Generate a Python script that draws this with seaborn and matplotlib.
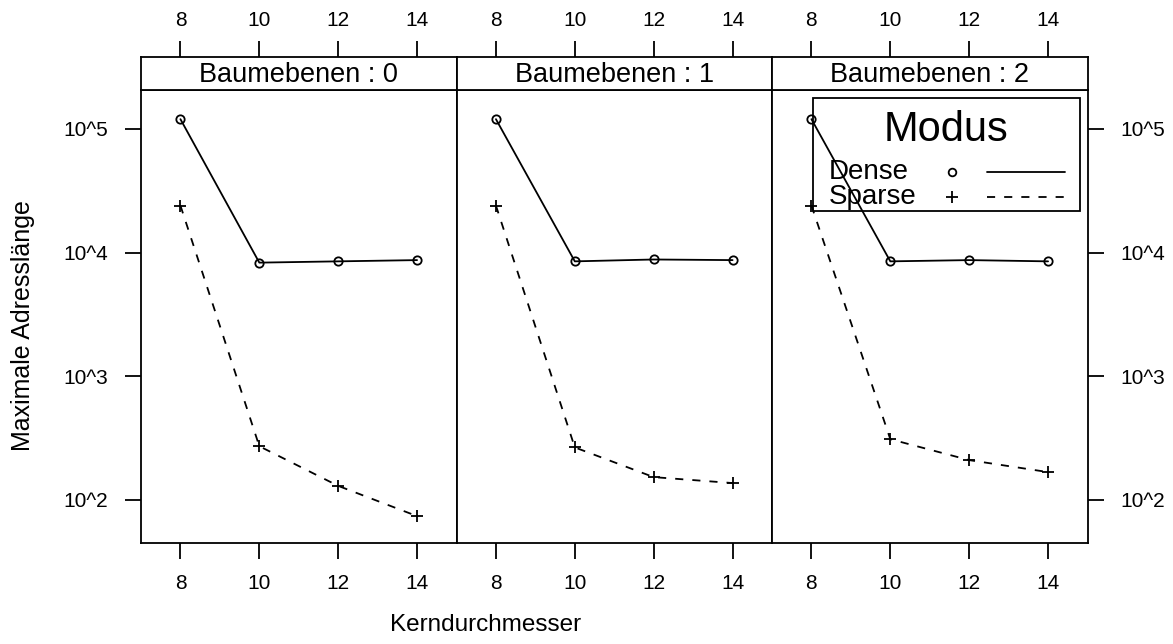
import numpy as np
import pandas as pd
import matplotlib
matplotlib.use("Agg")
import matplotlib.pyplot as plt
from matplotlib.lines import Line2D
import seaborn as sns

sns.set_theme(style="white")
plt.rcParams['font.family'] = ['Liberation Sans', 'DejaVu Sans']
plt.rcParams['text.color'] = 'black'
plt.rcParams['axes.labelcolor'] = 'black'
plt.rcParams['xtick.color'] = 'black'
plt.rcParams['ytick.color'] = 'black'

# ---- data ----
kern = [8, 10, 12, 14]
ebenen = [0, 1, 2]
dense_0 = [120000, 8300, 8500, 8700]
dense_1 = [120000, 8500, 8800, 8700]
dense_2 = [120000, 8500, 8700, 8500]
sparse_0 = [24000, 272, 130, 74]
sparse_1 = [24000, 266, 153, 137]
sparse_2 = [24000, 310, 210, 168]
modes = ["Dense", "Sparse"]
ytick_vals = [1e2, 1e3, 1e4, 1e5]
ytick_labels = ["10^2", "10^3", "10^4", "10^5"]

dense = {0: dense_0, 1: dense_1, 2: dense_2}
sparse = {0: sparse_0, 1: sparse_1, 2: sparse_2}
rows = []
for e in ebenen:
    for k, d, s in zip(kern, dense[e], sparse[e]):
        rows.append({"Baumebenen": e, "Kerndurchmesser": k, "Modus": "Dense", "val": d})
        rows.append({"Baumebenen": e, "Kerndurchmesser": k, "Modus": "Sparse", "val": s})
df = pd.DataFrame(rows)

W, H = 1173, 644
fig = plt.figure(figsize=(W / 100, H / 100), dpi=100)

def fx(px):
    return px / W

def fy(py):
    return 1 - py / H

panel_x = [141, 456.5, 772, 1087.5]
top_p, bot_p, top_s = 90, 543, 57
FS = 15
lw_frame = 1.3
dash = (4.5, 5)

for i, e in enumerate(ebenen):
    x0, x1 = panel_x[i], panel_x[i + 1]
    ax = fig.add_axes([fx(x0), fy(bot_p), fx(x1 - x0), (bot_p - top_p) / H])
    sub = df[df["Baumebenen"] == e]
    sns.lineplot(data=sub, x="Kerndurchmesser", y="val", style="Modus",
                 style_order=modes, markers={"Dense": "o", "Sparse": "P"},
                 dashes={"Dense": "", "Sparse": dash}, color="black",
                 lw=1.3, ms=6, mfc="none", mec="black", mew=1.3,
                 legend=False, ax=ax)
    # replace P with + marker
    for ln in ax.get_lines():
        if ln.get_marker() == "P":
            ln.set_marker("+")
            ln.set_markersize(9)
    ax.set_yscale("log")
    ax.set_xlim(7.0, 15.0)
    ax.set_ylim(10 ** 1.652, 10 ** 5.315)
    ax.set_xlabel("")
    ax.set_ylabel("")
    ax.set_xticks(kern)
    ax.set_xticklabels([str(k) for k in kern], fontsize=FS)
    ax.minorticks_off()
    ax.set_yticks(ytick_vals)
    ax.set_yticklabels(ytick_labels, fontsize=FS)
    ax.tick_params(axis="both", which="both", direction="out", length=11.5,
                   width=1.3, color="black", pad=11, labelsize=FS,
                   labelcolor="black",
                   bottom=True, top=False, left=(i == 0), right=(i == 2),
                   labelleft=(i == 0), labelright=(i == 2))
    ax.tick_params(axis="y", pad=12)
    for sp in ax.spines.values():
        sp.set_linewidth(lw_frame)
        sp.set_color("black")
    ax.set_facecolor("white")

    # strip
    sax = fig.add_axes([fx(x0), fy(top_p), fx(x1 - x0), (top_p - top_s) / H])
    sax.set_xlim(7.0, 15.0)
    sax.set_ylim(0, 1)
    sax.set_yticks([])
    sax.set_xticks(kern)
    sax.set_xticklabels([str(k) for k in kern], fontsize=FS)
    sax.tick_params(axis="x", direction="out", length=11.5, width=1.3,
                    color="black", pad=8, labelsize=FS, labelcolor="black",
                    bottom=False, labelbottom=False, top=True, labeltop=True)
    for sp in sax.spines.values():
        sp.set_linewidth(lw_frame)
        sp.set_color("black")
    sax.set_facecolor("white")
    sax.text(0.5, 0.45, f"Baumebenen : {e}", transform=sax.transAxes,
             ha="center", va="center", fontsize=19.5, color="black")

# axis labels
fig.text(fx(486), fy(625), "Kerndurchmesser", ha="center", va="center",
         fontsize=17.5, color="black")
fig.text(fx(23), fy(326), "Maximale Adresslänge", ha="center", va="center",
         rotation=90, fontsize=18, color="black")

# legend (lattice-style key)
lx0, lx1, ly0, ly1 = 813, 1080, 98, 211
fig.patches.append(plt.Rectangle((fx(lx0), fy(ly1)), fx(lx1 - lx0), (ly1 - ly0) / H,
                                 transform=fig.transFigure, fill=False,
                                 edgecolor="black", linewidth=1.3, zorder=10))
fig.text(fx(946), fy(130), "Modus", ha="center", va="center", fontsize=30,
         color="black", zorder=11)
key_y = {"Dense": 172, "Sparse": 197}
key_marker = {"Dense": ("o", 5.5), "Sparse": ("+", 9)}
key_dash = {"Dense": "-", "Sparse": (0, dash)}
for m in modes:
    yy = fy(key_y[m])
    fig.text(fx(829), yy, m, ha="left", va="center", fontsize=20,
             color="black", zorder=11)
    mk, ms = key_marker[m]
    fig.lines.append(Line2D([fx(952)], [yy], marker=mk, ms=ms, mfc="none",
                            mec="black", mew=1.3, ls="none",
                            transform=fig.transFigure, zorder=11))
    fig.lines.append(Line2D([fx(987), fx(1065)], [yy, yy], color="black",
                            lw=1.3, ls=key_dash[m], transform=fig.transFigure,
                            zorder=11))

fig.savefig("out.png", dpi=100)
